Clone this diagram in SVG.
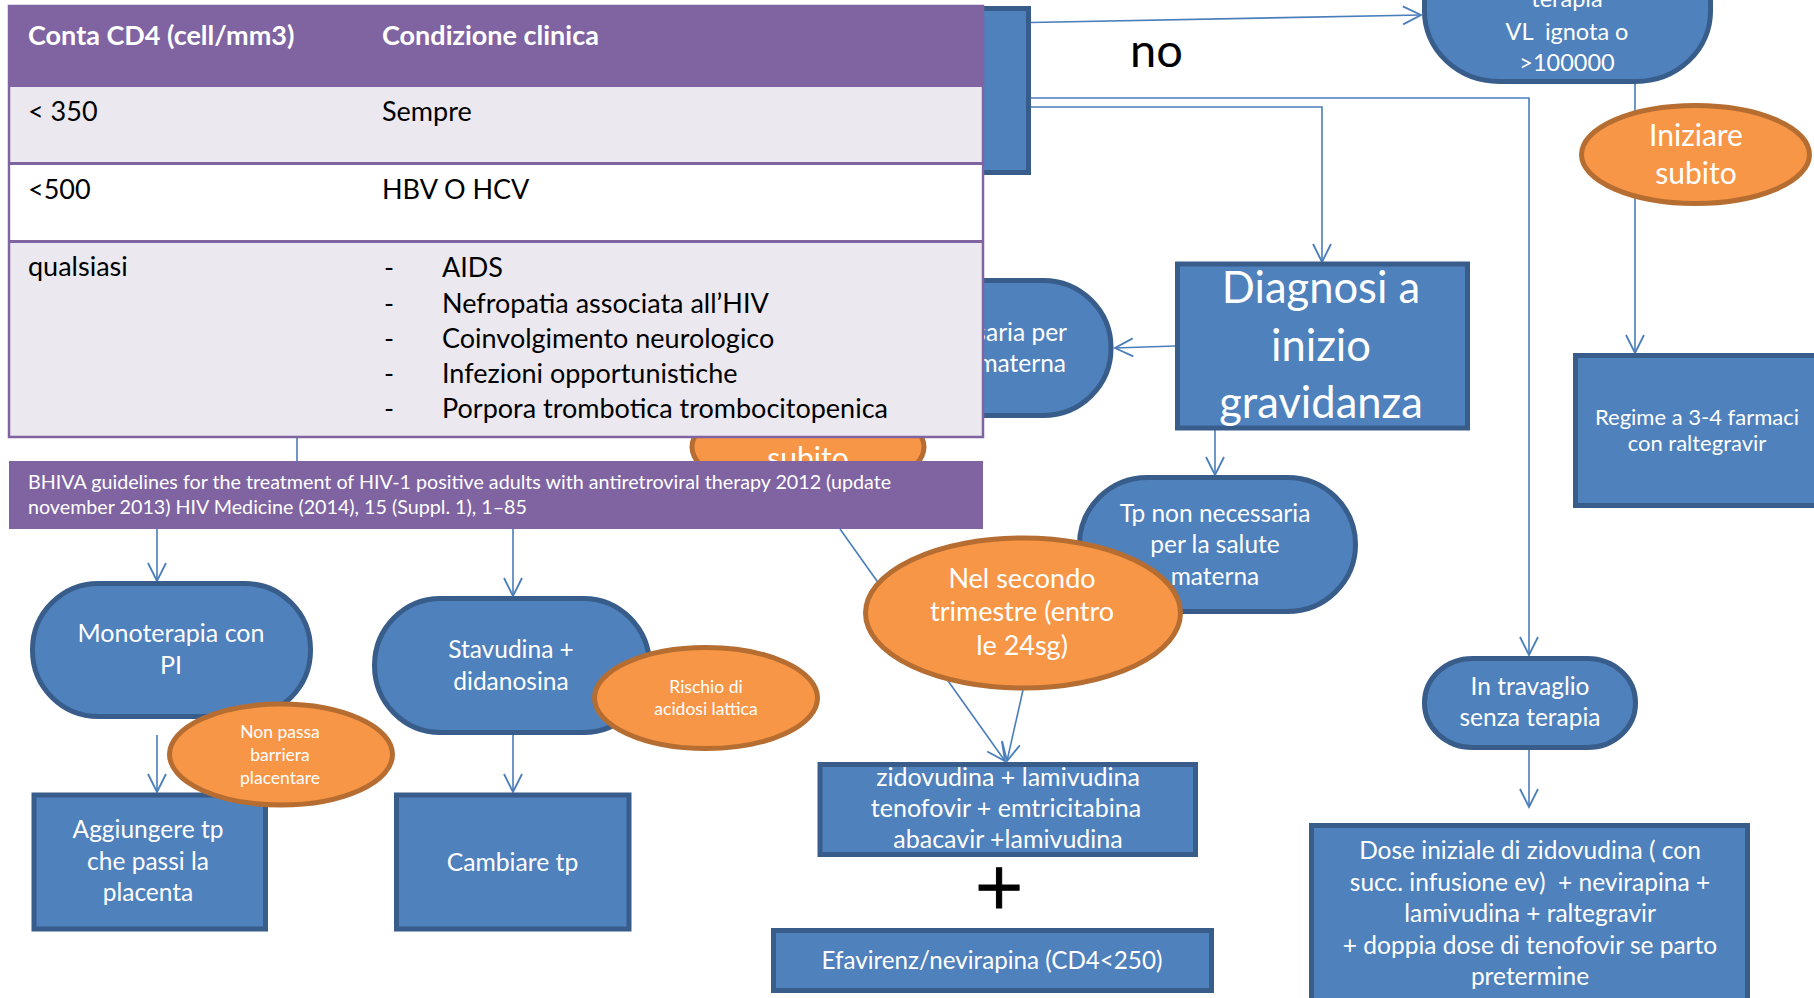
<svg xmlns="http://www.w3.org/2000/svg" width="1814" height="998" viewBox="0 0 1814 998">
<defs>
<style>
.blue{fill:#4F81BD;stroke:#385D8A;stroke-width:5}
.orange{fill:#F79646;stroke:#B66D31;stroke-width:5}
.conn{fill:none;stroke:#4A7EBB;stroke-width:1.6}
.t{font-family:Lato,"Liberation Sans",sans-serif;fill:#fff;text-anchor:middle}
.k{font-family:Lato,"Liberation Sans",sans-serif;fill:#000}
.w{fill:#fff}
.pre{white-space:pre}
</style>
<marker id="ar" markerUnits="userSpaceOnUse" markerWidth="22" markerHeight="22" viewBox="0 0 22 22" refX="20" refY="11" orient="auto">
<path d="M2,2 L20,11 L2,20" fill="none" stroke="#4A7EBB" stroke-width="1.8"/>
</marker>
<clipPath id="clipSubito"><rect x="680" y="437" width="260" height="24"/></clipPath>
</defs>
<rect width="1814" height="998" fill="#fff"/>

<g id="connectors">
<path class="conn" d="M1031,22.5 L1421,15" marker-end="url(#ar)"/>
<path class="conn" d="M1031,98 H1529 V655" stroke-width="2.6" marker-end="url(#ar)"/>
<path class="conn" d="M1031,107 H1322 V262" marker-end="url(#ar)"/>
<path class="conn" d="M1635,84 V353" marker-end="url(#ar)"/>
<path class="conn" d="M1175,346 L1115,348" marker-end="url(#ar)"/>
<path class="conn" d="M1215,430 V475" marker-end="url(#ar)"/>
<path class="conn" d="M840,529 L1005,761" marker-end="url(#ar)"/>
<path class="conn" d="M1023,690 L1007,761" marker-end="url(#ar)"/>
<path class="conn" d="M1529,745 V807" marker-end="url(#ar)"/>
<path class="conn" d="M157,735 V792" marker-end="url(#ar)"/>
<path class="conn" d="M513,735 V792" marker-end="url(#ar)"/>
<path class="conn" d="M157,529 V581" marker-end="url(#ar)"/>
<path class="conn" d="M513,529 V596" marker-end="url(#ar)"/>
<path class="conn" d="M297,430 V465"/>
</g>

<g id="node-hidden-rect"><rect class="blue" x="608.5" y="8.5" width="420" height="164"/></g>

<g id="node-terapia">
<rect class="blue" x="1424.5" y="-70" width="286" height="151.5" rx="75" ry="70"/>
<text class="t" font-size="23.5" x="1567" y="7">terapia</text>
<text class="t pre" font-size="23.5" x="1567" y="39.5">VL  ignota o</text>
<text class="t" font-size="23.5" x="1567" y="71">&gt;100000</text>
</g>

<g id="node-iniziare">
<ellipse class="orange" cx="1695.5" cy="154.5" rx="114" ry="49"/>
<text class="t" font-size="30" x="1696" y="146">Iniziare</text>
<text class="t" font-size="30" x="1696" y="184">subito</text>
</g>

<g id="node-regime">
<rect class="blue" x="1575.5" y="355.5" width="260" height="150"/>
<text class="t" font-size="22" x="1697" y="425">Regime a 3-4 farmaci</text>
<text class="t" font-size="22" x="1697" y="451">con raltegravir</text>
</g>

<g id="node-diagnosi">
<rect class="blue" x="1177.5" y="264" width="290" height="164"/>
<text class="t" font-size="43.5" x="1321" y="303">Diagnosi a</text>
<text class="t" font-size="43.5" x="1321" y="361">inizio</text>
<text class="t" font-size="43.5" x="1321" y="418">gravidanza</text>
</g>

<g id="node-tp-necessaria">
<rect class="blue" x="835" y="280.5" width="276" height="135" rx="68" ry="67"/>
<text class="t" font-size="24.5" x="1067" y="341" style="text-anchor:end">Tp necessaria per</text>
<text class="t" font-size="24.5" x="1066" y="372" style="text-anchor:end">la salute materna</text>
</g>

<g id="node-tp-non-necessaria">
<rect class="blue" x="1079.5" y="477.5" width="276" height="134" rx="68" ry="67"/>
<text class="t" font-size="24.5" x="1215" y="521.5">Tp non necessaria</text>
<text class="t" font-size="24.5" x="1215" y="553">per la salute</text>
<text class="t" font-size="24.5" x="1215" y="584.5">materna</text>
</g>

<g id="node-subito-hidden">
<ellipse class="orange" cx="808" cy="447" rx="116" ry="48"/>
<text class="t" font-size="30" x="808" y="469" clip-path="url(#clipSubito)">subito</text>
</g>

<g id="node-nel-secondo">
<ellipse class="orange" cx="1023" cy="613" rx="157.5" ry="75"/>
<text class="t" font-size="27" x="1022" y="588">Nel secondo</text>
<text class="t" font-size="27" x="1022" y="621">trimestre (entro</text>
<text class="t" font-size="27" x="1022" y="654.5">le 24sg)</text>
</g>

<g id="node-travaglio">
<rect class="blue" x="1424.5" y="658.5" width="211" height="89" rx="48" ry="44"/>
<text class="t" font-size="24.5" x="1530" y="694.5">In travaglio</text>
<text class="t" font-size="24.5" x="1530" y="726">senza terapia</text>
</g>

<g id="node-dose">
<rect class="blue" x="1311.5" y="825.5" width="436" height="200"/>
<text class="t pre" font-size="24.5" x="1530" y="859">Dose iniziale di zidovudina ( con</text>
<text class="t pre" font-size="24.5" x="1530" y="890.5">succ. infusione ev)  + nevirapina +</text>
<text class="t" font-size="24.5" x="1530" y="922">lamivudina + raltegravir</text>
<text class="t" font-size="24.5" x="1530" y="953.5">+ doppia dose di tenofovir se parto</text>
<text class="t" font-size="24.5" x="1530" y="985">pretermine</text>
</g>

<g id="node-zidovudina">
<rect class="blue" x="820" y="764.5" width="375.5" height="90"/>
<text class="t" font-size="25" x="1008" y="785.5">zidovudina + lamivudina</text>
<text class="t" font-size="25" x="1006" y="817">tenofovir + emtricitabina</text>
<text class="t" font-size="25" x="1008" y="848">abacavir +lamivudina</text>
</g>

<g id="plus-sign"><text x="999" y="908" font-size="64" font-family="'DejaVu Sans',sans-serif" text-anchor="middle" fill="#000" stroke="#000" stroke-width="1">+</text></g>

<g id="node-efavirenz">
<rect class="blue" x="773.5" y="930.5" width="438" height="60"/>
<text class="t" font-size="24.2" x="992" y="969">Efavirenz/nevirapina (CD4&lt;250)</text>
</g>

<g id="node-monoterapia">
<rect class="blue" x="32.5" y="583.5" width="278" height="133" rx="66" ry="66"/>
<text class="t" font-size="25" x="171" y="642">Monoterapia con</text>
<text class="t" font-size="25" x="171" y="673.5">PI</text>
</g>

<g id="node-aggiungere">
<rect class="blue" x="34" y="795" width="231.5" height="134"/>
<text class="t" font-size="24.5" x="148" y="838">Aggiungere tp</text>
<text class="t" font-size="24.5" x="148" y="869.5">che passi la</text>
<text class="t" font-size="24.5" x="148" y="901">placenta</text>
</g>

<g id="node-non-passa">
<ellipse class="orange" cx="281" cy="754.5" rx="111.5" ry="50.5"/>
<text class="t" font-size="17.5" x="280" y="738">Non passa</text>
<text class="t" font-size="17.5" x="280" y="761">barriera</text>
<text class="t" font-size="17.5" x="280" y="784">placentare</text>
</g>

<g id="node-stavudina">
<rect class="blue" x="374.5" y="598.5" width="275" height="134" rx="66" ry="67"/>
<text class="t" font-size="24.5" x="511" y="658">Stavudina +</text>
<text class="t" font-size="24.5" x="511" y="689.5">didanosina</text>
</g>

<g id="node-cambiare">
<rect class="blue" x="396.5" y="795" width="232.5" height="134"/>
<text class="t" font-size="24.7" x="512.5" y="871">Cambiare tp</text>
</g>

<g id="node-rischio">
<ellipse class="orange" cx="706" cy="698" rx="111.5" ry="50.5"/>
<text class="t" font-size="17.5" x="706" y="693">Rischio di</text>
<text class="t" font-size="17.5" x="706" y="714.5">acidosi lattica</text>
</g>

<text class="k" font-size="47" x="1130" y="67">no</text>

<g id="table">
<rect x="9" y="6" width="974" height="431" fill="#EBE8EF" stroke="#8064A2" stroke-width="2.5"/>
<rect x="9" y="6" width="974" height="81" fill="#8064A2"/>
<rect x="10.5" y="165" width="971" height="75" fill="#fff"/>
<rect x="9" y="162" width="974" height="3" fill="#8064A2"/>
<rect x="9" y="240" width="974" height="3" fill="#8064A2"/>
<text class="k w" font-size="27" font-weight="bold" x="28" y="45">Conta CD4 (cell/mm3)</text>
<text class="k w" font-size="27" font-weight="bold" x="382" y="45">Condizione clinica</text>
<text class="k" font-size="27" x="28" y="121">&lt; 350</text>
<text class="k" font-size="27" x="382" y="121">Sempre</text>
<text class="k" font-size="27" x="28" y="199">&lt;500</text>
<text class="k" font-size="27" x="382" y="199">HBV O HCV</text>
<text class="k" font-size="27" x="28" y="276">qualsiasi</text>
<text class="k" font-size="27" x="384" y="277">-</text>
<text class="k" font-size="27" x="442" y="277">AIDS</text>
<text class="k" font-size="27" x="384" y="313">-</text>
<text class="k" font-size="27" x="442" y="313">Nefropatia associata all’HIV</text>
<text class="k" font-size="27" x="384" y="348">-</text>
<text class="k" font-size="27" x="442" y="348">Coinvolgimento neurologico</text>
<text class="k" font-size="27" x="384" y="383">-</text>
<text class="k" font-size="27" x="442" y="383">Infezioni opportunistiche</text>
<text class="k" font-size="27" x="384" y="418">-</text>
<text class="k" font-size="27" x="442" y="418">Porpora trombotica trombocitopenica</text>
</g>

<g id="citation">
<rect x="9" y="461" width="974" height="68" fill="#8064A2"/>
<text class="k w" font-size="19.7" x="28" y="489">BHIVA guidelines for the treatment of HIV-1 positive adults with antiretroviral therapy 2012 (update</text>
<text class="k w" font-size="19.7" x="28" y="514">november 2013) HIV Medicine (2014), 15 (Suppl. 1), 1–85</text>
</g>
</svg>
